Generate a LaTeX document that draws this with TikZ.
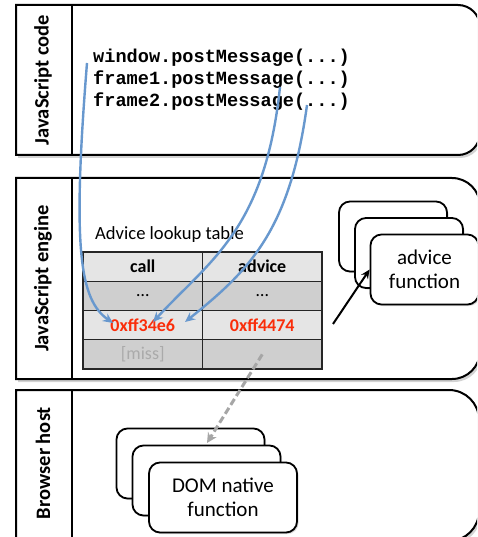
\documentclass[tikz,border=0pt]{standalone}
\usepackage{fontspec}
\setmainfont{Carlito}
\newfontfamily\codefont{Liberation Mono}
\usetikzlibrary{arrows.meta,shadows}
\definecolor{call_blue}{RGB}{104, 152, 206}
\definecolor{addr_red}{RGB}{250, 45, 10}
\definecolor{miss_gray}{RGB}{170, 170, 170}

\tikzset{
  panel/.style={draw, line width=2pt, fill=white,
    drop shadow={shadow xshift=2pt, shadow yshift=-3pt, opacity=0.35}},
  lane/.style={rotate=90, font=\fontsize{20.5}{24}\selectfont\bfseries},
  code/.style={inner sep=0pt, font=\fontsize{18.6}{21.5}\selectfont\codefont\bfseries},
  cell/.style={draw=black!85, line width=1.2pt, minimum width=119.5pt,
    minimum height=29.25pt, inner sep=0pt, font=\fontsize{18}{20}\selectfont},
  func/.style={draw, line width=1.8pt, fill=white, rounded corners=11pt,
    minimum width=108pt, minimum height=70pt, align=center,
    font=\fontsize{21}{24}\selectfont,
    drop shadow={shadow xshift=1.5pt, shadow yshift=-1.5pt, opacity=0.3}},
  call/.style={call_blue, line width=2.4pt, -{Stealth[length=10pt,width=9pt]}},
}

\begin{document}
\begin{tikzpicture}[x=1pt, y=-1pt]
\useasboundingbox (0,0) rectangle (477,537);
\clip (0,0) rectangle (477,537);

% the three layers
\draw[panel] (16,5) -- (458,5) arc[start angle=-90, end angle=0, radius=22]
  -- (480,133) arc[start angle=0, end angle=90, radius=22] -- (16,155) -- cycle;
\draw[line width=2pt] (72,5) -- (72,155);
\draw[panel] (16,178) -- (452,178) arc[start angle=-90, end angle=0, radius=28]
  -- (480,351) arc[start angle=0, end angle=90, radius=28] -- (16,379) -- cycle;
\draw[line width=2pt] (72,178) -- (72,379);
\draw[panel] (16,390) -- (449,390) arc[start angle=-90, end angle=0, radius=30]
  -- (479,511) arc[start angle=0, end angle=90, radius=30] -- (16,541) -- cycle;
\draw[line width=2pt] (72,390) -- (72,541);

\node[lane] (jscode) at (43,80) {JavaScript code};
\node[lane] (jsengine) at (43,278.5) {JavaScript engine};
\node[lane] (host) at (43,463) {Browser host};

% script
\node[code, anchor=base west] (line1) at (93,63) {window.postMessage(...)};
\node[code, anchor=base west] (line2) at (93,85) {frame1.postMessage(...)};
\node[code, anchor=base west] (line3) at (93,107) {frame2.postMessage(...)};

% lookup table
\node[anchor=west, inner sep=0pt, font=\fontsize{18.6}{20}\selectfont] (tabtitle) at (95,235) {Advice lookup table};
\node[cell, fill=gray!20] (c11) at (142.75,266.6) {\textbf{call}};
\node[cell, fill=gray!20] (c12) at (262.25,266.6) {\textbf{advice}};
\node[cell, fill=gray!38] (c21) at (142.75,295.9) {…};
\node[cell, fill=gray!38] (c22) at (262.25,295.9) {…};
\node[cell, fill=gray!20, text=addr_red] (c31) at (142.75,325.1) {\textbf{0xff34e6}};
\node[cell, fill=gray!20, text=addr_red] (c32) at (262.25,325.1) {\textbf{0xff4474}};
\node[cell, fill=gray!38, text=miss_gray] (c41) at (142.75,354.4) {[miss]};
\node[cell, fill=gray!38] (c42) at (262.25,354.4) {};

% advice functions
\node[func] (adv1) at (393,236.5) {};
\node[func] (adv2) at (409,253) {};
\node[func] (adv3) at (424.5,269.5) {advice\\function};

% native functions
\node[func, minimum width=148pt] (dom1) at (190.5,463.5) {};
\node[func, minimum width=148pt] (dom2) at (206.5,480.5) {};
\node[func, minimum width=148pt] (dom3) at (223,497.5) {DOM native\\function};

% calls into the table
\coordinate (s1) at (87,63);
\coordinate (s2) at (280,87);
\coordinate (s3) at (307,105);
\coordinate (t1) at (113,323);
\coordinate (t2) at (153,322);
\coordinate (t3) at (185,322);
\draw[call] (s1) .. controls (72,250) and (80,300) .. (t1);
\draw[call] (s2) .. controls (265,230) and (210,260) .. (t2);
\draw[call] (s3) .. controls (290,230) and (250,270) .. (t3);

\coordinate (a0) at (333,324);
\draw[line width=2pt, -{Stealth[length=9pt,width=8pt]}] (a0) -- (adv3.west);

\coordinate (miss) at (207,443);
\draw[gray!70, line width=3pt, dash pattern=on 7pt off 3.5pt,
  -{Stealth[length=10pt,width=10pt]}] (c42.center) -- (miss);

\end{tikzpicture}
\end{document}
